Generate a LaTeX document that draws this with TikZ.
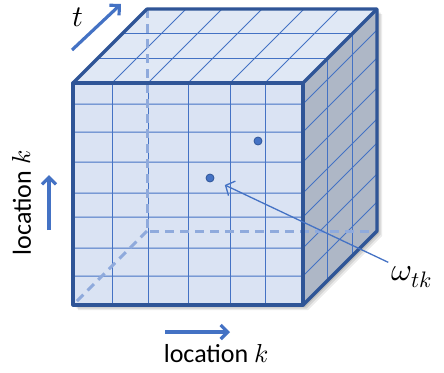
\documentclass[tikz,border=0pt]{standalone}
\usepackage{fontspec}
\usepackage{unicode-math}
\setmainfont{Carlito}
\setmathfont{Latin Modern Math}
\usetikzlibrary{arrows.meta, positioning, calc}
\definecolor{edgeblue}{RGB}{47,85,151}
\definecolor{gridblue}{RGB}{68,114,196}
\definecolor{hiddenblue}{RGB}{143,170,220}
\definecolor{frontfill}{RGB}{218,227,243}
\definecolor{topfill}{RGB}{224,232,245}
\definecolor{sidefill}{RGB}{174,183,198}

\begin{document}
\begin{tikzpicture}[x=1pt, y=-1pt,
  edge/.style={edgeblue, line width=3.2pt, line join=round},
  gridline/.style={gridblue, line width=1pt},
  hidden/.style={hiddenblue, line width=3pt, dash pattern=on 9pt off 6pt},
  dirarrow/.style={gridblue, line width=3.2pt, -{Straight Barb[length=7pt, width=14pt]}},
  lbl/.style={font=\fontsize{26}{30}\selectfont},
  obs/.style={circle, fill=gridblue, draw=edgeblue, line width=0.8pt, inner sep=0pt, minimum size=8pt}]
  \useasboundingbox (0,0) rectangle (444,372);
  % cube corners (front, back)
  \coordinate (A) at (73,83);  \coordinate (B) at (303,83);
  \coordinate (C) at (303,305); \coordinate (D) at (73,305);
  \coordinate (Ab) at (147,9);  \coordinate (Bb) at (377,9);
  \coordinate (Cb) at (377,231); \coordinate (Db) at (147,231);
  % shadow
  \foreach \o/\a in {5/0.08, 3.5/0.10, 2/0.12}
    \fill[black, opacity=\a] ($(A)+(\o,\o)$) -- ($(Ab)+(\o,\o)$) -- ($(Bb)+(\o,\o)$) -- ($(Cb)+(\o,\o)$) -- ($(C)+(\o,\o)$) -- ($(D)+(\o,\o)$) -- cycle;
  % faces
  \fill[frontfill] (A) rectangle (C);
  \fill[topfill] (A) -- (Ab) -- (Bb) -- (B) -- cycle;
  \fill[sidefill] (B) -- (Bb) -- (Cb) -- (C) -- cycle;
  % grid
  \foreach \x in {112,148,188,230,265} {
    \draw[gridline] (\x,83) -- (\x,305);
    \draw[gridline] (\x,83) -- ++(74,-74);
  }
  \foreach \y in {104,132,162,193,217,248,276}
    \draw[gridline] (73,\y) -- (303,\y) -- ++(74,-74);
  \foreach \s in {1,2}
    \draw[gridline] ($(A)!\s/3!(Ab)$) -- ($(B)!\s/3!(Bb)$) -- ($(C)!\s/3!(Cb)$);
  % hidden edges
  \draw[hidden] (Ab) -- (Db) -- (Cb);
  \draw[hidden] (Db) -- (D);
  % outline
  \draw[edge] (A) rectangle (C);
  \draw[edge] (A) -- (Ab) -- (Bb) -- (Cb) -- (C);
  \draw[edge] (B) -- (Bb);
  % observations
  \node[obs] (w1) at (258,141) {};
  \node[obs] (w2) at (210,178) {};
  \node[font=\fontsize{32}{36}\selectfont] (omega) at (412,277) {$\omega_{tk}$};
  \draw[gridblue, line width=1.3pt, -{Straight Barb[length=7pt, width=16pt]}, shorten >=12pt] (omega.north west) -- (w2);
  % axis labels
  \node[font=\fontsize{30}{34}\selectfont] (tlab) at (78,17) {$t$};
  \coordinate (t0) at (72,50); \coordinate (t1) at (121,4);
  \draw[dirarrow] (t0) -- (t1);
  \node[lbl, rotate=90] (locv) at (22,203) {location $k$};
  \coordinate (v0) at (49,230); \coordinate (v1) at (49,175);
  \draw[dirarrow] (v0) -- (v1);
  \node[lbl] (loch) at (216,354) {location $k$};
  \coordinate (h0) at (165,332); \coordinate (h1) at (230,332);
  \draw[dirarrow] (h0) -- (h1);
\end{tikzpicture}
\end{document}
